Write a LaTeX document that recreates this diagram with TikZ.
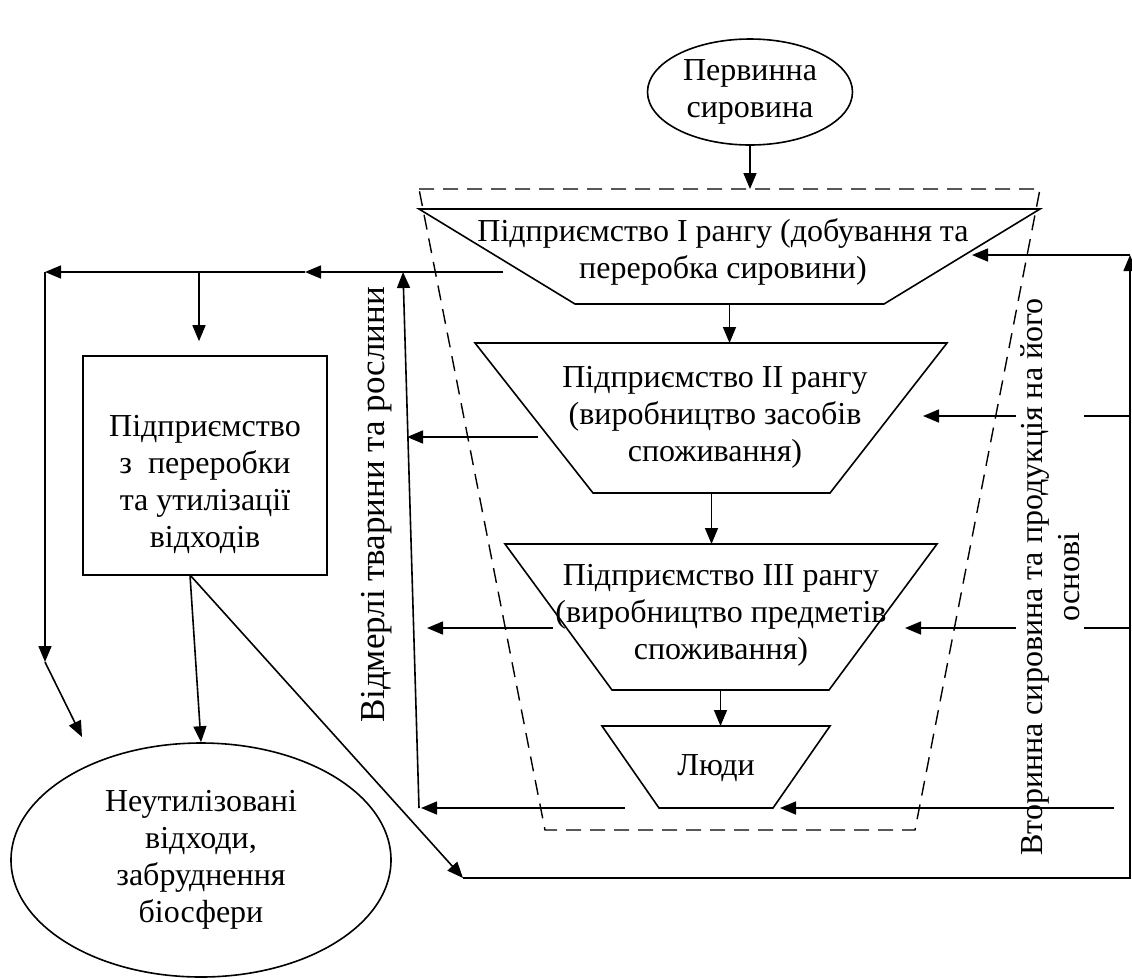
\documentclass[tikz,border=0pt]{standalone}
\usepackage{fontspec}
\setmainfont{Liberation Serif}
\usetikzlibrary{arrows.meta,shapes.geometric,calc}

\begin{document}
\begin{tikzpicture}[x=1pt, y=-1pt, line width=1.6pt,
    >={Triangle[length=16pt, width=13pt]},
    txt/.style={font=\fontsize{32}{37}\selectfont, align=center, inner sep=0pt},
    frame/.style={dash pattern=on 15pt off 9pt, line width=1.4pt}]

  \useasboundingbox (0,0) rectangle (1132,978);

  % funnel[name, top, bottom, top left, top right, bottom left, bottom right]
  \def\funnel[#1, #2, #3, #4, #5, #6, #7]{
    \coordinate (#1-tl) at (#4,#2);
    \coordinate (#1-tr) at (#5,#2);
    \coordinate (#1-bl) at (#6,#3);
    \coordinate (#1-br) at (#7,#3);
    \coordinate (#1-b) at ($(#1-bl)!0.5!(#1-br)$);
    \draw (#1-tl) -- (#1-tr) -- (#1-br) -- (#1-bl) -- cycle;
  }

  \funnel[rank1, 209, 304, 419, 1040, 575, 884]
  \funnel[rank2, 343, 493, 475, 947, 593, 830]
  \funnel[rank3, 544, 690, 505, 937, 612, 829]
  \funnel[people, 726, 808, 602, 830, 659, 773]

  \node[txt, draw, ellipse, minimum width=205pt, minimum height=106pt] (raw) at (750,92) {Первинна\\сировина};
  \node[txt] (rank1txt) at (723,252) {Підприємство I рангу (добування та\\переробка сировини)};
  \node[txt] (rank2txt) at (715,417) {Підприємство II рангу\\(виробництво засобів\\споживання)};
  \node[txt] (rank3txt) at (721,615) {Підприємство III рангу\\(виробництво предметів\\споживання)};
  \node[txt] (peopletxt) at (716,768) {Люди};

  \node[draw, minimum width=244pt, minimum height=219pt] (plant) at (205,465.5) {};
  \node[txt] (planttxt) at (205,484) {Підприємство\\з~~переробки\\та утилізації\\відходів};
  \node[txt, draw, ellipse, minimum width=380pt, minimum height=234pt] (waste) at (201,860) {Неутилізовані\\відходи,\\забруднення\\біосфери};

  \node[txt, rotate=90, font=\fontsize{35}{40}\selectfont] (dead) at (377,505) {Відмерлі тварини та рослини};

  % Arrows down the chain
  \coordinate (frametop) at (750,189);
  \draw[->] (raw) -- (frametop);
  \draw[->] (rank1-b) -- (rank1-b |- rank2-tl);
  \draw[->] (rank2-b) -- (rank2-b |- rank3-tl);
  \draw[->] (rank3-b) -- (rank3-b |- people-tl);

  % Left side
  \coordinate (r1out) at (503,272);
  \coordinate (split) at (305,272);
  \coordinate (fork) at (199,272);
  \coordinate (corner) at (45,272);
  \coordinate (leftend) at (45,662);
  \coordinate (leftfree) at (82,737);
  \coordinate (deadtop) at (403,272);
  \coordinate (deadbot) at (419,808);
  \draw[->] (r1out) -- (split);
  \draw[->] (split) -- (corner);
  \draw[->, shorten >=14pt] (fork) -- (fork |- plant.north);
  \draw[->] (corner) -- (leftend);
  \draw[->] (leftend) -- (leftfree);
  \draw[->] (deadbot) -- (deadtop);

  \coordinate (r2out) at (538,437);
  \coordinate (r2dead) at (407,437);
  \coordinate (r3out) at (553,628);
  \coordinate (r3dead) at (427,628);
  \coordinate (pout) at (625,808);
  \coordinate (pdead) at (421,808);
  \draw[->] (r2out) -- (r2dead);
  \draw[->] (r3out) -- (r3dead);
  \draw[->] (pout) -- (pdead);

  % Waste plant outputs
  \coordinate (plantfoot) at (190,575);
  \coordinate (loopstart) at (463,878);
  \coordinate (loopcorner) at (1130,878);
  \coordinate (looptop) at (1130,255);
  \draw[->] (plantfoot) -- (waste.north);
  \draw[->] (plantfoot) -- (loopstart);
  \draw[->] (loopstart) -- (loopcorner) -- (looptop);

  % Right side
  \coordinate (r1in) at (972,255);
  \coordinate (r2feed) at (1130,416);
  \coordinate (r2in) at (923,416);
  \coordinate (r3feed) at (1130,628);
  \coordinate (r3in) at (905,628);
  \coordinate (pfeed) at (1114,808);
  \coordinate (pin) at (780,808);
  \draw[->] (looptop) -- (r1in);
  \draw[->] (r2feed) -- (r2in);
  \draw[->] (r3feed) -- (r3in);

  \node[txt, rotate=90, fill=white, inner ysep=4pt] (second) at (1050,577) {Вторинна сировина та продукція на його\\основі};
  \draw[->] (pfeed) -- (pin);

  % Dashed frame
  \coordinate (f-tl) at (419,189);
  \coordinate (f-tr) at (1040,189);
  \coordinate (f-br) at (915,830);
  \coordinate (f-bl) at (545,830);
  \draw[frame] (f-tl) -- (f-tr) -- (f-br) -- (f-bl) -- cycle;

\end{tikzpicture}
\end{document}
